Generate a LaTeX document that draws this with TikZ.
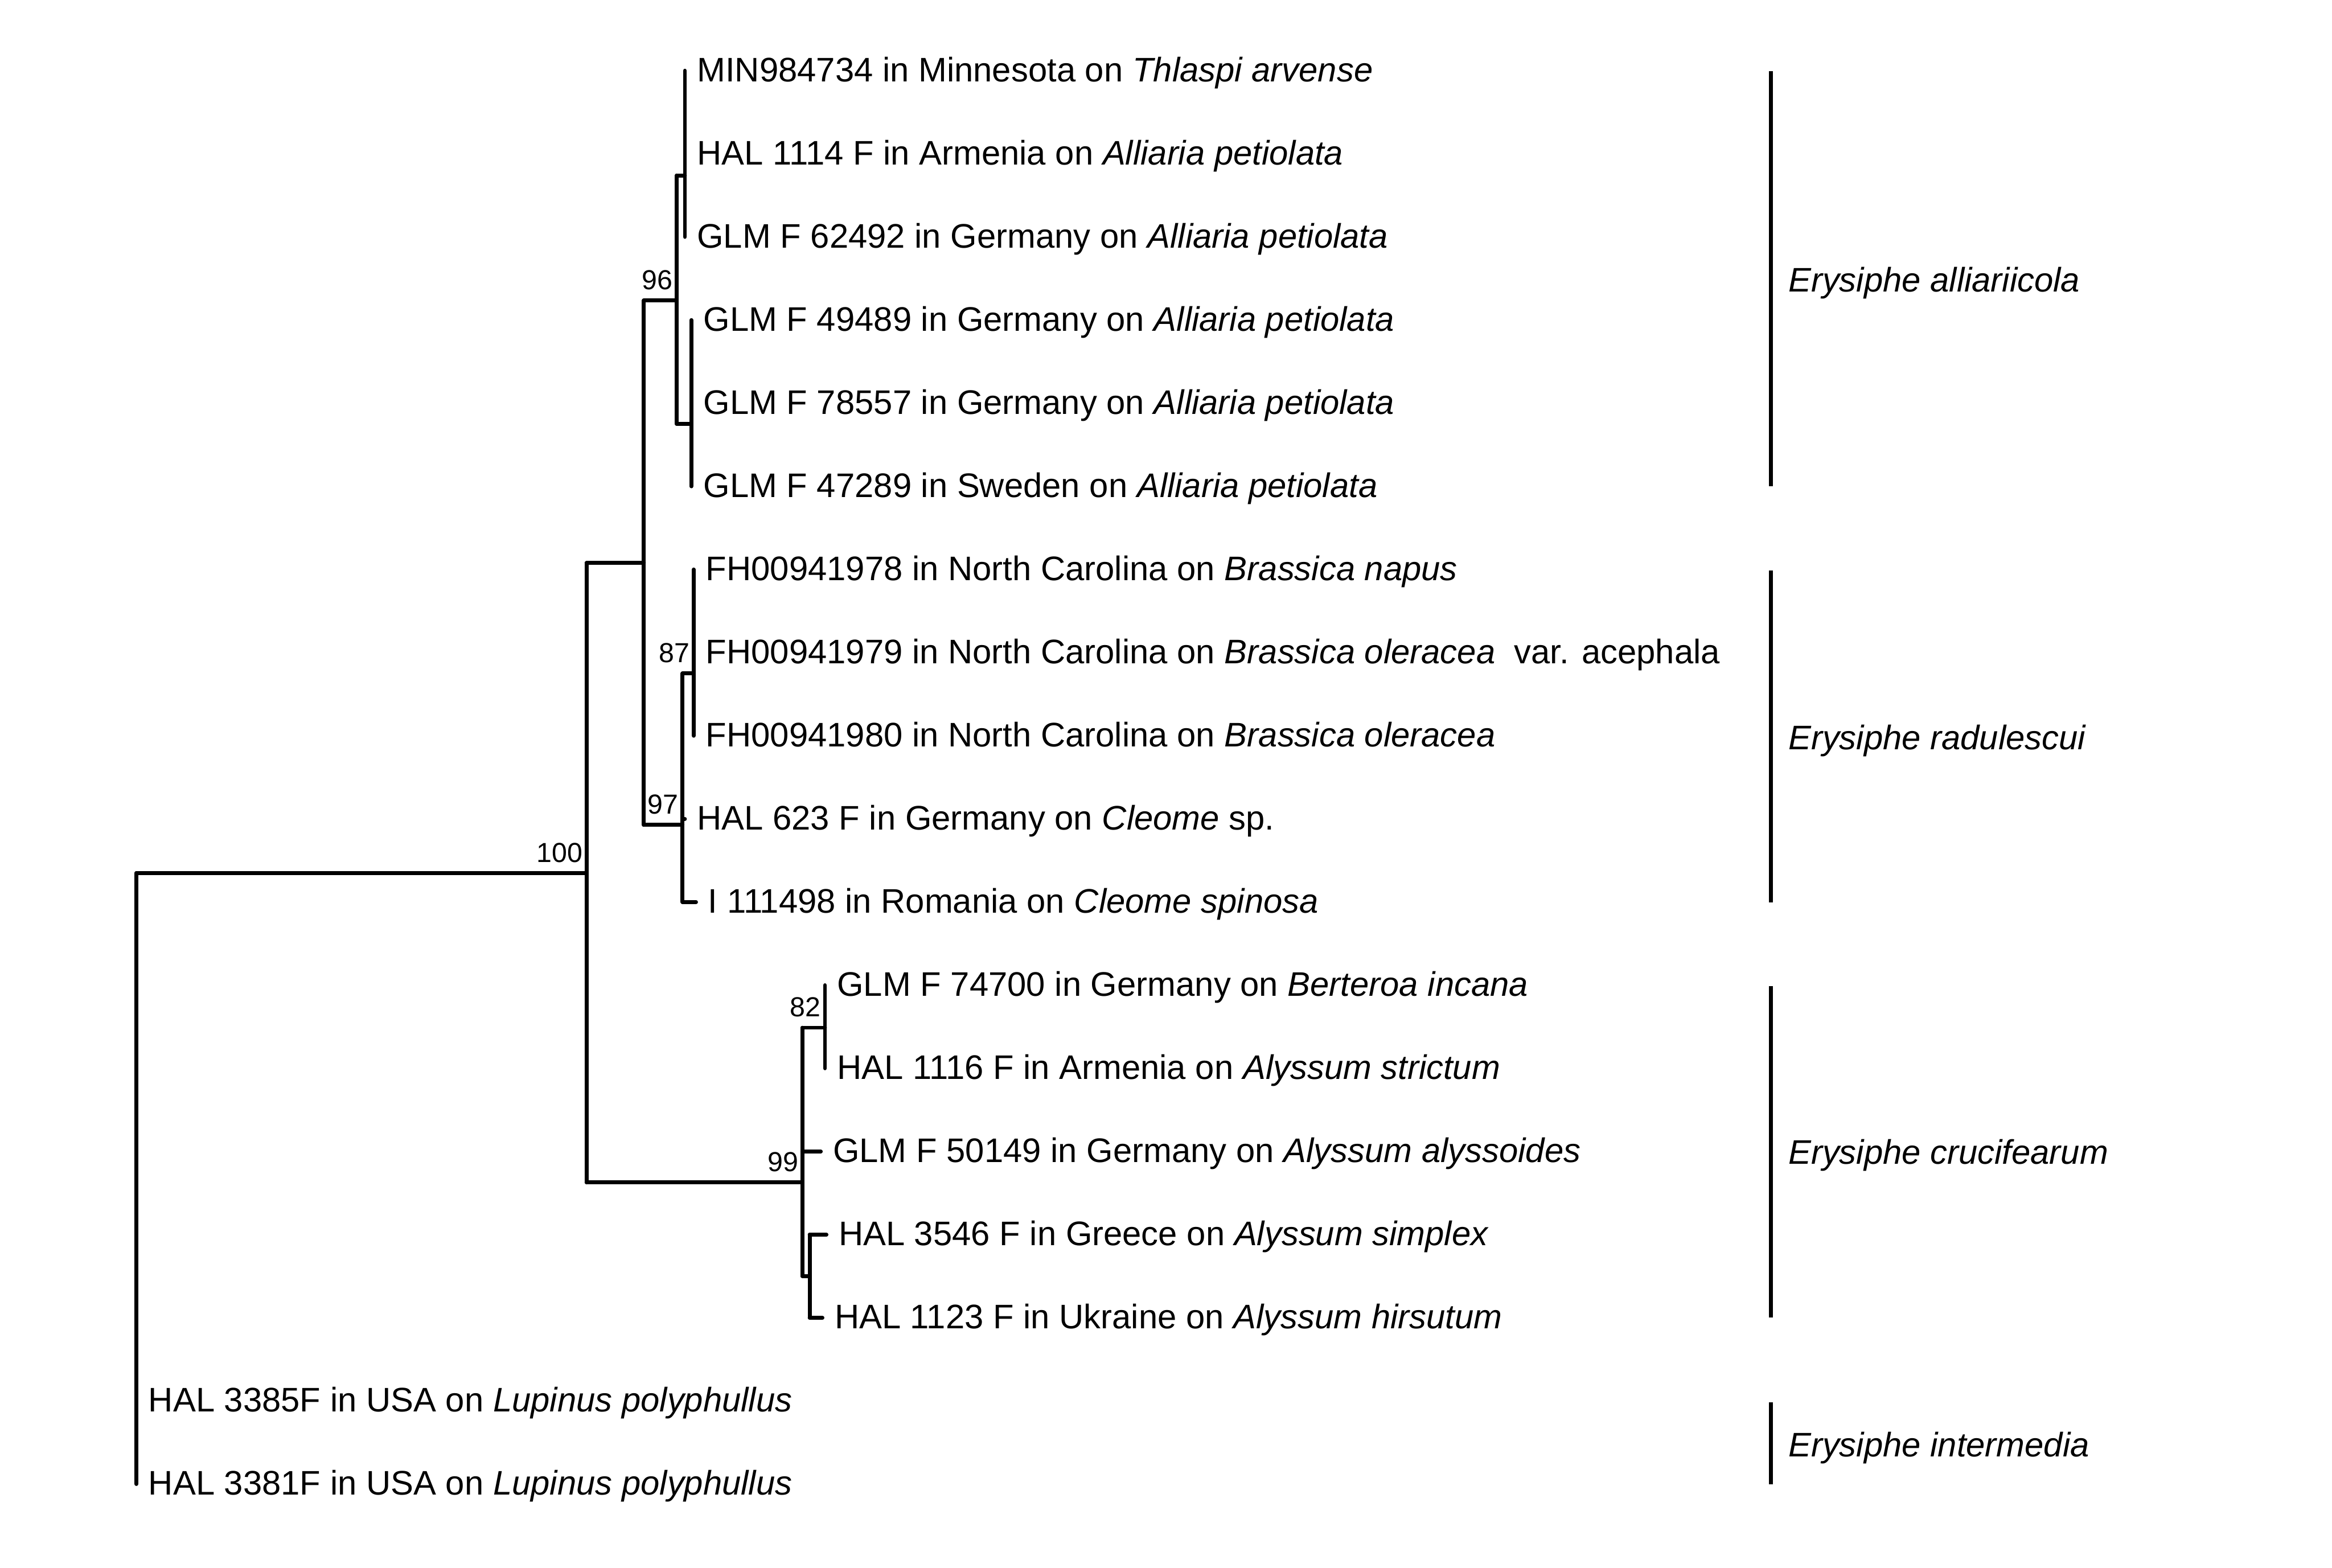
\documentclass[tikz,border=0pt]{standalone}
\usepackage{fontspec}
\setmainfont{Liberation Sans}
\usetikzlibrary{calc}
\begin{document}
\begin{tikzpicture}[x=1pt,y=-1pt,
  branch/.style={line width=2.6pt, line cap=round, line join=round},
  taxon/.style={anchor=base west, inner sep=0pt, xshift=8pt, yshift=-7.4pt, font=\fontsize{22.9}{27}\selectfont},
  support/.style={anchor=south east, inner sep=0pt, font=\fontsize{18.5}{22}\selectfont},
  cladebar/.style={line width=2.5pt},
  cladename/.style={anchor=base west, inner sep=0pt, font=\fontsize{22.9}{27}\selectfont\itshape}]
\useasboundingbox[fill=white] (0,0) rectangle (1568,1054);

% tips
\coordinate (t0) at (460.5,47.5);
\coordinate (t1) at (460.5,103.4);
\coordinate (t2) at (460.5,159.3);
\coordinate (t3) at (464.8,215.2);
\coordinate (t4) at (464.8,271.1);
\coordinate (t5) at (464.8,327.0);
\coordinate (t6) at (466.4,382.9);
\coordinate (t7) at (466.4,438.8);
\coordinate (t8) at (466.4,494.7);
\coordinate (t9) at (460.5,550.6);
\coordinate (t10) at (468.0,606.5);
\coordinate (t11) at (554.7,662.4);
\coordinate (t12) at (554.7,718.3);
\coordinate (t13) at (551.9,774.2);
\coordinate (t14) at (555.7,830.1);
\coordinate (t15) at (553.0,886.0);
\coordinate (t16) at (91.7,941.9);
\coordinate (t17) at (91.7,997.8);

% internal nodes
\coordinate (nA) at (460.5,118);
\coordinate (nB) at (464.8,285);
\coordinate (n96) at (455,202);
\coordinate (n87) at (466.4,452.8);
\coordinate (n97) at (458.9,554.6);
\coordinate (nU) at (432.9,378.5);
\coordinate (n82) at (554.7,691);
\coordinate (nS) at (544.4,858);
\coordinate (n99) at (539.5,795);
\coordinate (n100) at (394.4,587);
\coordinate (root) at (91.7,587);

% branches
\draw[branch] (t0) -- (t2);
\draw[branch] (t3) -- (t5);
\draw[branch] (n96 |- nA) -- (n96 |- nB);
\draw[branch] (n96 |- nA) -- (nA);
\draw[branch] (n96 |- nB) -- (nB);
\draw[branch] (t6) -- (t8);
\draw[branch] (n97 |- n87) -- (n97 |- t10);
\draw[branch] (n97 |- n87) -- (n87);
\draw[branch] (n97 |- t9) -- (t9);
\draw[branch] (n97 |- t10) -- (t10);
\draw[branch] (nU |- n96) -- (nU |- n97);
\draw[branch] (nU |- n96) -- (n96);
\draw[branch] (nU |- n97) -- (n97);
\draw[branch] (t11) -- (t12);
\draw[branch] (nS |- t14) -- (nS |- t15);
\draw[branch] (nS |- t14) -- (t14);
\draw[branch] (nS |- t15) -- (t15);
\draw[branch] (n99 |- n82) -- (n99 |- nS);
\draw[branch] (n99 |- n82) -- (n82);
\draw[branch] (n99 |- t13) -- (t13);
\draw[branch] (n99 |- nS) -- (nS);
\draw[branch] (n100 |- nU) -- (n100 |- n99);
\draw[branch] (n100 |- nU) -- (nU);
\draw[branch] (n100 |- n99) -- (n99);
\draw[branch] (root) -- (t17);
\draw[branch] (root) -- (n100);

% support values
\node[support] (s100) at ($(n100)+(-2.6,-7)$) {100};
\node[support] (s96) at ($(n96)+(-2.6,-7)$) {96};
\node[support] (s97) at ($(n97)+(-2.6,-7)$) {97};
\node[support] (s87) at ($(n87)+(-2.6,-7)$) {87};
\node[support] (s99) at ($(n99)+(-2.6,-7)$) {99};
\node[support] (s82) at ($(n82)+(-2.6,-7)$) {82};

% taxon labels
\node[taxon] (l0) at (t0) {MIN984734 in Minnesota on \textit{Thlaspi arvense}};
\node[taxon] (l1) at (t1) {HAL 1114 F in Armenia on \textit{Alliaria petiolata}};
\node[taxon] (l2) at (t2) {GLM F 62492 in Germany on \textit{Alliaria petiolata}};
\node[taxon] (l3) at (t3) {GLM F 49489 in Germany on \textit{Alliaria petiolata}};
\node[taxon] (l4) at (t4) {GLM F 78557 in Germany on \textit{Alliaria petiolata}};
\node[taxon] (l5) at (t5) {GLM F 47289 in Sweden on \textit{Alliaria petiolata}};
\node[taxon] (l6) at (t6) {FH00941978 in North Carolina on \textit{Brassica napus}};
\node[taxon] (l7) at (t7) {FH00941979 in North Carolina on \textit{Brassica oleracea}\ \ var. acephala};
\node[taxon] (l8) at (t8) {FH00941980 in North Carolina on \textit{Brassica oleracea}};
\node[taxon] (l9) at (t9) {HAL 623 F in Germany on \textit{Cleome} sp.};
\node[taxon] (l10) at (t10) {I 111498 in Romania on \textit{Cleome spinosa}};
\node[taxon] (l11) at (t11) {GLM F 74700 in Germany on \textit{Berteroa incana}};
\node[taxon] (l12) at (t12) {HAL 1116 F in Armenia on \textit{Alyssum strictum}};
\node[taxon] (l13) at (t13) {GLM F 50149 in Germany on \textit{Alyssum alyssoides}};
\node[taxon] (l14) at (t14) {HAL 3546 F in Greece on \textit{Alyssum simplex}};
\node[taxon] (l15) at (t15) {HAL 1123 F in Ukraine on \textit{Alyssum hirsutum}};
\node[taxon] (l16) at (t16) {HAL 3385F in USA on \textit{Lupinus polyphullus}};
\node[taxon] (l17) at (t17) {HAL 3381F in USA on \textit{Lupinus polyphullus}};

% clade bars
\coordinate (b1a) at (1190.7,48);   \coordinate (b1b) at (1190.7,326.8);
\coordinate (b2a) at (1190.7,383.7); \coordinate (b2b) at (1190.7,606.7);
\coordinate (b3a) at (1190.7,663);  \coordinate (b3b) at (1190.7,886);
\coordinate (b4a) at (1190.7,942.8); \coordinate (b4b) at (1190.7,998);
\draw[cladebar] (b1a) -- (b1b);
\draw[cladebar] (b2a) -- (b2b);
\draw[cladebar] (b3a) -- (b3b);
\draw[cladebar] (b4a) -- (b4b);
\node[cladename] (c1) at (1202.3,196.0) {Erysiphe alliariicola};
\node[cladename] (c2) at (1202.3,504.0) {Erysiphe radulescui};
\node[cladename] (c3) at (1202.3,782.5) {Erysiphe crucifearum};
\node[cladename] (c4) at (1202.3,979.3) {Erysiphe intermedia};
\end{tikzpicture}
\end{document}
